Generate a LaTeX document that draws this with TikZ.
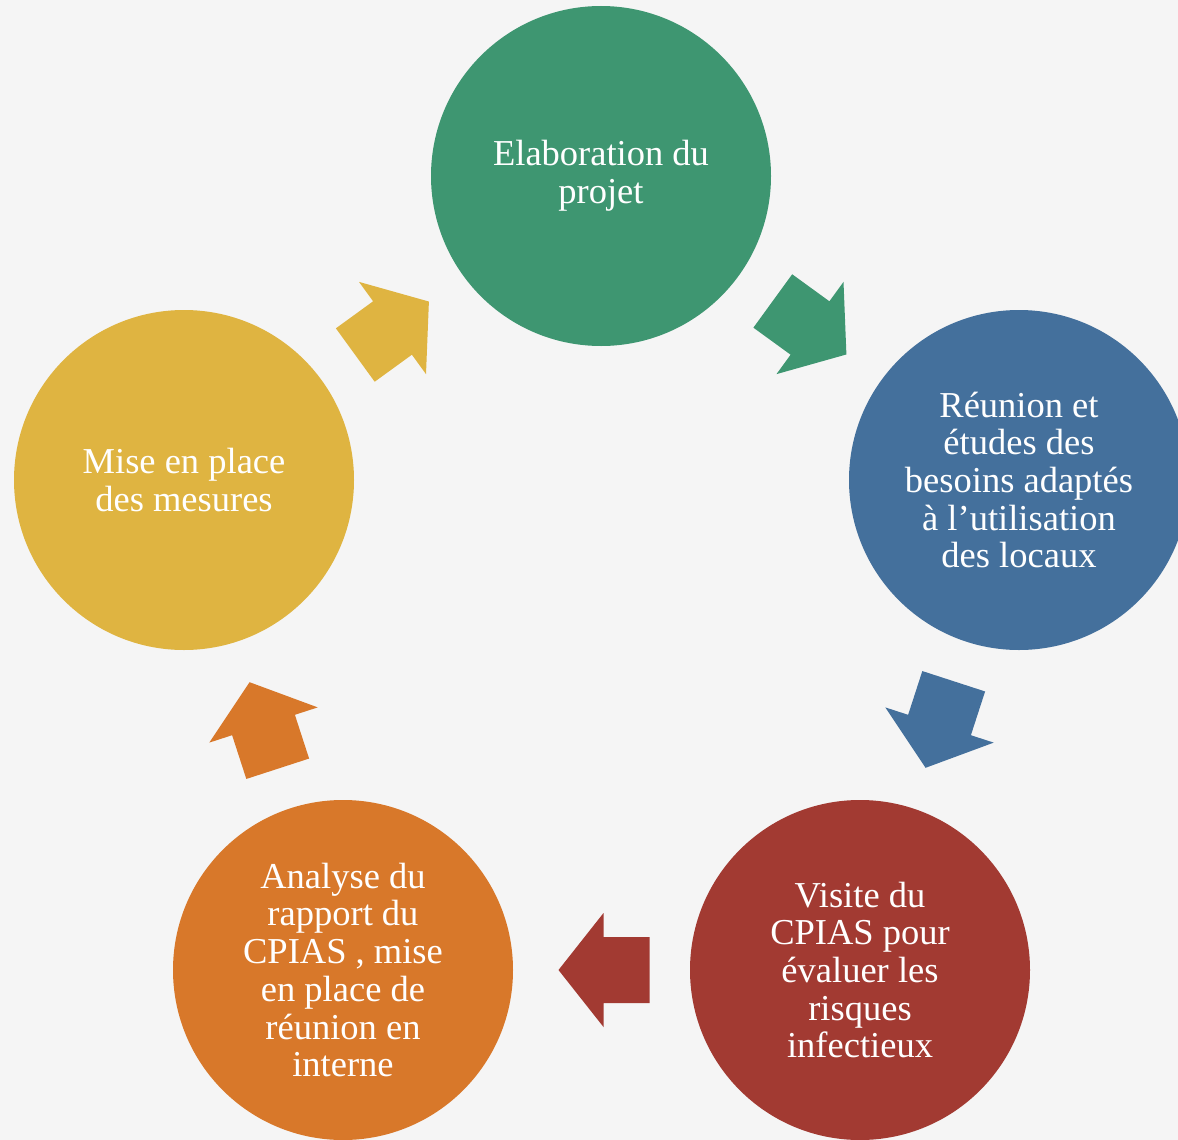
\documentclass[tikz,border=0pt]{standalone}
\usepackage{fontspec}
\setmainfont{Liberation Serif}
\usetikzlibrary{calc}
\definecolor{bgc}{RGB}{245,245,245}
\definecolor{cgreen}{RGB}{62,150,113}
\definecolor{cblue}{RGB}{68,112,156}
\definecolor{cred}{RGB}{162,58,50}
\definecolor{corange}{RGB}{216,120,42}
\definecolor{cyellow}{RGB}{223,180,65}
\tikzset{
  stepcircle/.style={circle, minimum size=340pt, inner sep=0pt, text=white,
    align=center, font=\fontsize{36.5}{37.7}\selectfont},
  cyclearrow/.pic={\fill[pic actions] (-46,-33) -- (0,-33) -- (0,-57) -- (45,0)
    -- (0,57) -- (0,33) -- (-46,33) -- cycle;}
}
\begin{document}
\begin{tikzpicture}[x=1pt,y=-1pt]
\useasboundingbox (0,0) rectangle (1178,1140);
\clip (0,0) rectangle (1178,1140);
\fill[bgc] (0,0) rectangle (1178,1140);
\node[stepcircle, fill=cgreen] (g) at (601,176) {Elaboration du\\projet};
\node[stepcircle, fill=cblue] (b) at (1019,480) {Réunion et\\études des\\besoins adaptés\\à l’utilisation\\des locaux};
\node[stepcircle, fill=cred] (r) at (860,970) {Visite du\\CPIAS pour\\évaluer les\\risques\\infectieux};
\node[stepcircle, fill=corange] (o) at (343,970) {Analyse du\\rapport du\\CPIAS , mise\\en place de\\réunion en\\interne};
\node[stepcircle, fill=cyellow] (y) at (184,480) {Mise en place\\des mesures};
\pic[fill=cgreen, rotate=-36] at ($(g)!0.5!(b)$) {cyclearrow};
\pic[fill=cblue, rotate=-108] at ($(b)!0.5!(r)$) {cyclearrow};
\pic[fill=cred, rotate=180] at ($(r)!0.5!(o)+(2,0)$) {cyclearrow};
\pic[fill=corange, rotate=108] at ($(o)!0.5!(y)$) {cyclearrow};
\pic[fill=cyellow, rotate=36] at ($(y)!0.5!(g)$) {cyclearrow};
\end{tikzpicture}
\end{document}
